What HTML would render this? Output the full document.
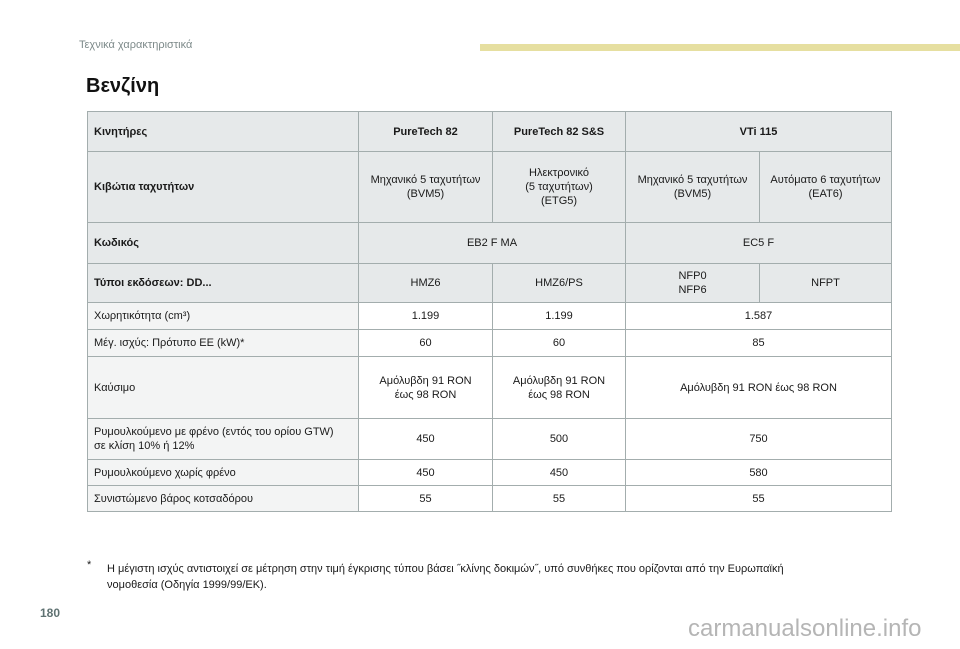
<!DOCTYPE html>
<html><head><meta charset="utf-8">
<style>
body{margin:0;width:960px;height:649px;position:relative;background:#fff;font-family:"Liberation Sans",Arial,sans-serif;color:#1a1a1a;overflow:hidden}
.abs{position:absolute}
table{position:absolute;left:87px;top:111px;border-collapse:collapse;table-layout:fixed;font-size:11px;border:1.5px solid #98a3a3}
td{border:1px solid #a3adad;text-align:center;padding:0 3px;line-height:14px;vertical-align:middle}
td.l{text-align:left;padding-left:6px}
tr.g td{background:#e6e9ea}
tr.w td.l{background:#f3f4f4}
b{font-weight:bold}
</style></head><body>
<div class="abs" style="left:79px;top:39px;font-size:11px;color:#7d8a8a">Τεχνικά χαρακτηριστικά</div>
<div class="abs" style="left:480px;top:44px;width:480px;height:7px;background:#e6dfa0"></div>
<div class="abs" style="left:86px;top:75px;font-size:20px;font-weight:bold;color:#111">Βενζίνη</div>
<table>
<colgroup><col style="width:271px"><col style="width:134px"><col style="width:133px"><col style="width:134px"><col style="width:132px"></colgroup>
<tr class="g" style="height:40px"><td class="l"><b>Κινητήρες</b></td><td><b>PureTech 82</b></td><td><b>PureTech 82 S&amp;S</b></td><td colspan="2"><b>VTi 115</b></td></tr>
<tr class="g" style="height:71px"><td class="l"><b>Κιβώτια ταχυτήτων</b></td><td>Μηχανικό 5 ταχυτήτων<br>(BVM5)</td><td>Ηλεκτρονικό<br>(5 ταχυτήτων)<br>(ETG5)</td><td>Μηχανικό 5 ταχυτήτων<br>(BVM5)</td><td>Αυτόματο 6 ταχυτήτων<br>(EAT6)</td></tr>
<tr class="g" style="height:41px"><td class="l"><b>Κωδικός</b></td><td colspan="2">EB2 F MA</td><td colspan="2">EC5 F</td></tr>
<tr class="g" style="height:39px"><td class="l"><b>Τύποι εκδόσεων: DD...</b></td><td>HMZ6</td><td>HMZ6/PS</td><td>NFP0<br>NFP6</td><td>NFPT</td></tr>
<tr class="w" style="height:27px"><td class="l">Χωρητικότητα (cm³)</td><td>1.199</td><td>1.199</td><td colspan="2">1.587</td></tr>
<tr class="w" style="height:27px"><td class="l">Μέγ. ισχύς: Πρότυπο ΕΕ (kW)*</td><td>60</td><td>60</td><td colspan="2">85</td></tr>
<tr class="w" style="height:62px"><td class="l">Καύσιμο</td><td>Αμόλυβδη 91 RON<br>έως 98 RON</td><td>Αμόλυβδη 91 RON<br>έως 98 RON</td><td colspan="2">Αμόλυβδη 91 RON έως 98 RON</td></tr>
<tr class="w" style="height:41px"><td class="l">Ρυμουλκούμενο με φρένο (εντός του ορίου GTW)<br>σε κλίση 10% ή 12%</td><td>450</td><td>500</td><td colspan="2">750</td></tr>
<tr class="w" style="height:26px"><td class="l">Ρυμουλκούμενο χωρίς φρένο</td><td>450</td><td>450</td><td colspan="2">580</td></tr>
<tr class="w" style="height:26px"><td class="l">Συνιστώμενο βάρος κοτσαδόρου</td><td>55</td><td>55</td><td colspan="2">55</td></tr>
</table>
<div class="abs" style="left:87px;top:559px;font-size:11px">*</div>
<div class="abs" style="left:107px;top:561px;font-size:11px;line-height:16px;width:755px">Η μέγιστη ισχύς αντιστοιχεί σε μέτρηση στην τιμή έγκρισης τύπου βάσει ˝κλίνης δοκιμών˝, υπό συνθήκες που ορίζονται από την Ευρωπαϊκή<br>νομοθεσία (Οδηγία 1999/99/ΕΚ).</div>
<div class="abs" style="left:40px;top:606px;font-size:12px;font-weight:bold;color:#5f7272">180</div>
<div class="abs" style="left:688px;top:615px;font-size:24px;color:#b5b5b5">carmanualsonline.info</div>
</body></html>
